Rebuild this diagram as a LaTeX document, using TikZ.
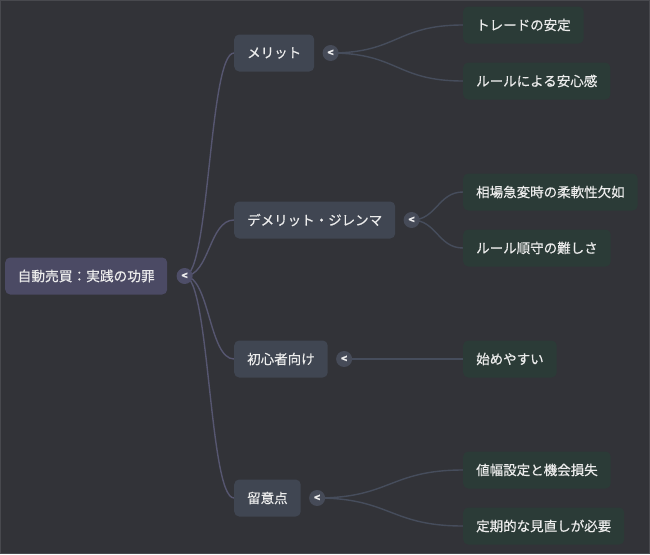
\documentclass[tikz,border=0pt]{standalone}
\usepackage{fontspec}
\setmainfont{Noto Sans CJK JP}[FakeBold=0.5]
\usepackage{tikz}
\usetikzlibrary{positioning,backgrounds}
\definecolor{bgdark}{RGB}{50,51,56}
\definecolor{rootfill}{RGB}{75,74,100}
\definecolor{mainfill}{RGB}{64,70,82}
\definecolor{leaffill}{RGB}{43,59,55}
\definecolor{rootknob}{RGB}{78,78,104}
\definecolor{mainknob}{RGB}{70,75,88}
\definecolor{rootwire}{RGB}{86,86,112}
\definecolor{mainwire}{RGB}{70,77,92}
\definecolor{txtlight}{RGB}{236,236,236}
\definecolor{framegray}{RGB}{72,73,78}
\pgfdeclarelayer{wires}
\pgfsetlayers{background,wires,main}

\newcommand{\branch}[4]{%
  \draw[#3] (#1.center) .. controls +(#4,0) and +(-#4,0) .. (#2.west);}

\begin{document}
\begin{tikzpicture}[x=1pt, y=-1pt,
        rootbox/.style={rectangle, rounded corners=5pt, fill=rootfill,
                        minimum height=37pt, minimum width=162pt, anchor=west,
                        text=txtlight, font=\fontsize{13.7}{16}\selectfont},
        mainbox/.style={rectangle, rounded corners=5pt, fill=mainfill,
                        minimum height=37pt, inner xsep=13pt, anchor=west,
                        text=txtlight, font=\fontsize{13.5}{16}\selectfont},
        leafbox/.style={mainbox, fill=leaffill},
        knob/.style={circle, inner sep=0pt, minimum size=16pt,
                     text=txtlight, font=\fontsize{10.5}{10}\selectfont\bfseries},
        rwire/.style={rootwire, line width=1.4pt},
        mwire/.style={mainwire, line width=1.4pt}
    ]

    %% ── canvas ──────────────────────────────────────────────────────────
    \begin{pgfonlayer}{background}
        \fill[bgdark] (0,0) rectangle (650,554);
        \draw[framegray, line width=0.8pt] (0.4,0.4) rectangle (649.6,553.6);
    \end{pgfonlayer}

    %% ── root ────────────────────────────────────────────────────────────
    \node[rootbox] (root) at (5,276) {自動売買：実践の功罪};
    \node[knob, fill=rootknob, right=9pt of root] (kroot) {<};

    %% ── main branches ───────────────────────────────────────────────────
    \node[mainbox] (merit)   at (234,53)  {メリット};
    \node[mainbox] (demerit) at (234,220) {デメリット・ジレンマ};
    \node[mainbox] (novice)  at (234,359) {初心者向け};
    \node[mainbox] (caution) at (234,498) {留意点};

    \node[knob, fill=mainknob, right=8pt of merit]   (kmerit)   {<};
    \node[knob, fill=mainknob, right=8pt of demerit] (kdemerit) {<};
    \node[knob, fill=mainknob, right=8pt of novice]  (knovice)  {<};
    \node[knob, fill=mainknob, right=8pt of caution] (kcaution) {<};

    %% ── leaves ──────────────────────────────────────────────────────────
    \node[leafbox] (stable)  at (463,25)  {トレードの安定};
    \node[leafbox] (relief)  at (463,81)  {ルールによる安心感};
    \node[leafbox] (rigid)   at (463,192) {相場急変時の柔軟性欠如};
    \node[leafbox] (disc)    at (463,248) {ルール順守の難しさ};
    \node[leafbox] (easy)    at (463,359) {始めやすい};
    \node[leafbox] (range)   at (463,470) {値幅設定と機会損失};
    \node[leafbox] (review)  at (463,526) {定期的な見直しが必要};

    %% ── wires ───────────────────────────────────────────────────────────
    \begin{pgfonlayer}{wires}
        \foreach \m in {merit,demerit,novice,caution}
            {\branch{kroot}{\m}{rwire}{25}}
        \branch{kmerit}{stable}{mwire}{67}
        \branch{kmerit}{relief}{mwire}{67}
        \branch{kdemerit}{rigid}{mwire}{25}
        \branch{kdemerit}{disc}{mwire}{25}
        \branch{knovice}{easy}{mwire}{60}
        \branch{kcaution}{range}{mwire}{73}
        \branch{kcaution}{review}{mwire}{73}
    \end{pgfonlayer}

\end{tikzpicture}
\end{document}
